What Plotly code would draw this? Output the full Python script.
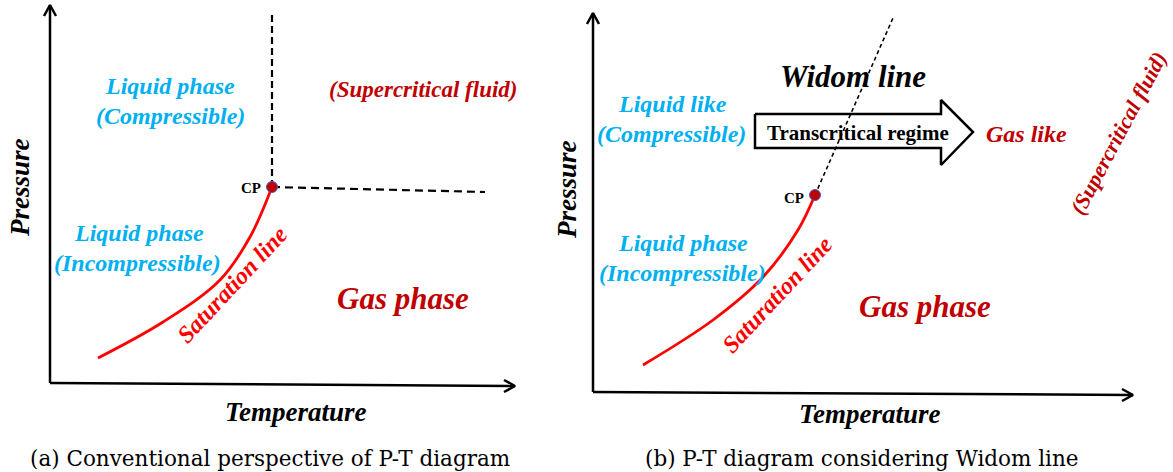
import plotly.graph_objects as go

# ---------------- data (panel-local units: T right, P up) ----------------
sat_T_a = [48, 113, 170, 200, 222]
sat_P_a = [25, 61, 103, 146, 196]
cp_a = (222, 196)
crit_iso_T_a = [222, 222]      # vertical dashed (critical temperature)
crit_iso_P_a = [196, 370]
crit_bar_T_a = [222, 435]      # horizontal dashed (critical pressure)
crit_bar_P_a = [196, 191]

sat_T_b = [50, 120, 170, 205, 222]
sat_P_b = [27, 72, 115, 162, 197]
cp_b = (222, 197)
widom_T_b = [222, 300]
widom_P_b = [197, 374]

arrow_T_b = [162, 348, 348, 380, 348, 348, 162, 162]
arrow_P_b = [278, 278, 292, 260, 227, 244, 244, 278]

axis_len_a = (465, 378)
axis_len_b = (540, 379)

LB = "#00B0F0"
DR = "#C00000"
RD = "#FF0000"
FONT = "Liberation Serif"

fig = go.Figure()

def axes_arrows(xa, ya, L):
    Tmax, Pmax = L
    fig.add_trace(go.Scatter(x=[0, Tmax], y=[0, -3], mode="lines",
                             line=dict(color="black", width=2.5), xaxis=xa, yaxis=ya))
    fig.add_trace(go.Scatter(x=[0, 0], y=[0, Pmax], mode="lines",
                             line=dict(color="black", width=2.5), xaxis=xa, yaxis=ya))
    fig.add_trace(go.Scatter(x=[Tmax - 11, Tmax, Tmax - 11], y=[3, -3, -9], mode="lines",
                             line=dict(color="black", width=2.5), xaxis=xa, yaxis=ya))
    fig.add_trace(go.Scatter(x=[-6, 0, 6], y=[Pmax - 11, Pmax, Pmax - 11], mode="lines",
                             line=dict(color="black", width=2.5), xaxis=xa, yaxis=ya))

# ---------- panel a ----------
axes_arrows("x", "y", axis_len_a)
fig.add_trace(go.Scatter(x=crit_iso_T_a, y=crit_iso_P_a, mode="lines",
                         line=dict(color="black", width=2.2, dash="7px,4px"), xaxis="x", yaxis="y"))
fig.add_trace(go.Scatter(x=crit_bar_T_a, y=crit_bar_P_a, mode="lines",
                         line=dict(color="black", width=2.2, dash="8px,5px"), xaxis="x", yaxis="y"))
fig.add_trace(go.Scatter(x=sat_T_a, y=sat_P_a, mode="lines",
                         line=dict(color=RD, width=2.8, shape="spline", smoothing=1.0),
                         xaxis="x", yaxis="y"))
fig.add_trace(go.Scatter(x=[cp_a[0]], y=[cp_a[1]], mode="markers",
                         marker=dict(color=DR, size=11, line=dict(color="#4060c0", width=1)),
                         xaxis="x", yaxis="y"))

# ---------- panel b ----------
axes_arrows("x2", "y2", axis_len_b)
fig.add_trace(go.Scatter(x=arrow_T_b, y=arrow_P_b, mode="lines", fill="toself",
                         fillcolor="white", line=dict(color="black", width=2.5),
                         xaxis="x2", yaxis="y2"))
fig.add_trace(go.Scatter(x=widom_T_b, y=widom_P_b, mode="lines",
                         line=dict(color="black", width=1.6, dash="4px,3px"), xaxis="x2", yaxis="y2"))
fig.add_trace(go.Scatter(x=sat_T_b, y=sat_P_b, mode="lines",
                         line=dict(color=RD, width=2.8, shape="spline", smoothing=1.0),
                         xaxis="x2", yaxis="y2"))
fig.add_trace(go.Scatter(x=[cp_b[0]], y=[cp_b[1]], mode="markers",
                         marker=dict(color=DR, size=11, line=dict(color="#4060c0", width=1)),
                         xaxis="x2", yaxis="y2"))

def txt(x, y, s, color, size, xr, yr, angle=0, bold=True, italic=True, family=FONT):
    t = s
    if italic:
        t = "<i>" + t + "</i>"
    if bold:
        t = "<b>" + t + "</b>"
    fig.add_annotation(x=x, y=y, text=t, showarrow=False, xref=xr, yref=yr,
                       textangle=angle, font=dict(family=family, size=size, color=color),
                       xanchor="center", yanchor="middle")

# panel a texts
txt(120, 297, "Liquid phase", LB, 24, "x", "y")
txt(120, 267, "(Compressible)", LB, 24, "x", "y")
txt(373, 294, "(Supercritical fluid)", DR, 23, "x", "y")
txt(89, 150, "Liquid phase", LB, 24, "x", "y")
txt(87, 120, "(Incompressible)", LB, 24, "x", "y")
txt(182, 98, "Saturation line", RD, 24, "x", "y", angle=-47)
txt(353, 85, "Gas phase", DR, 31, "x", "y")
txt(201, 195, "CP", "black", 15, "x", "y", italic=False)
txt(-30, 195, "Pressure", "black", 27, "x", "y", angle=-90)
txt(246, -29, "Temperature", "black", 27, "x", "y")
txt(220, -75, "(a) Conventional perspective of P-T diagram", "black", 21.5, "x", "y",
    bold=False, italic=False, family="DejaVu Serif")

# panel b texts
txt(260, 316, "Widom line", "black", 31, "x2", "y2")
txt(79, 288, "Liquid like", LB, 24, "x2", "y2")
txt(78, 258, "(Compressible)", LB, 24, "x2", "y2")
txt(265, 259, "Transcritical regime", "black", 21, "x2", "y2", italic=False)
txt(433, 258, "Gas like", DR, 24, "x2", "y2")
txt(525, 259, "(Supercritical fluid)", DR, 22, "x2", "y2", angle=-62)
txt(201, 194, "CP", "black", 15, "x2", "y2", italic=False)
txt(90, 149, "Liquid phase", LB, 24, "x2", "y2")
txt(89, 119, "(Incompressible)", LB, 24, "x2", "y2")
txt(184, 97, "Saturation line", RD, 24, "x2", "y2", angle=-47)
txt(332, 86, "Gas phase", DR, 31, "x2", "y2")
txt(-26, 202, "Pressure", "black", 27, "x2", "y2", angle=-90)
txt(277, -22, "Temperature", "black", 27, "x2", "y2")
txt(269, -66, "(b) P-T diagram considering Widom line", "black", 21.5, "x2", "y2",
    bold=False, italic=False, family="DejaVu Serif")

W, H = 1173, 472
split = 560
ax_common = dict(visible=False, showgrid=False, zeroline=False, fixedrange=True)
fig.update_layout(
    width=W, height=H, margin=dict(l=0, r=0, t=0, b=0),
    paper_bgcolor="white", plot_bgcolor="white", showlegend=False,
    xaxis=dict(domain=[0, split / W], range=[-50, split - 50], **ax_common),
    yaxis=dict(domain=[0, 1], range=[-(H - 383), 383], **ax_common),
    xaxis2=dict(domain=[split / W, 1], range=[split - 593, W - 593], anchor="y2", **ax_common),
    yaxis2=dict(domain=[0, 1], range=[-(H - 392), 392], anchor="x2", **ax_common),
)
fig.write_html("out.html")
